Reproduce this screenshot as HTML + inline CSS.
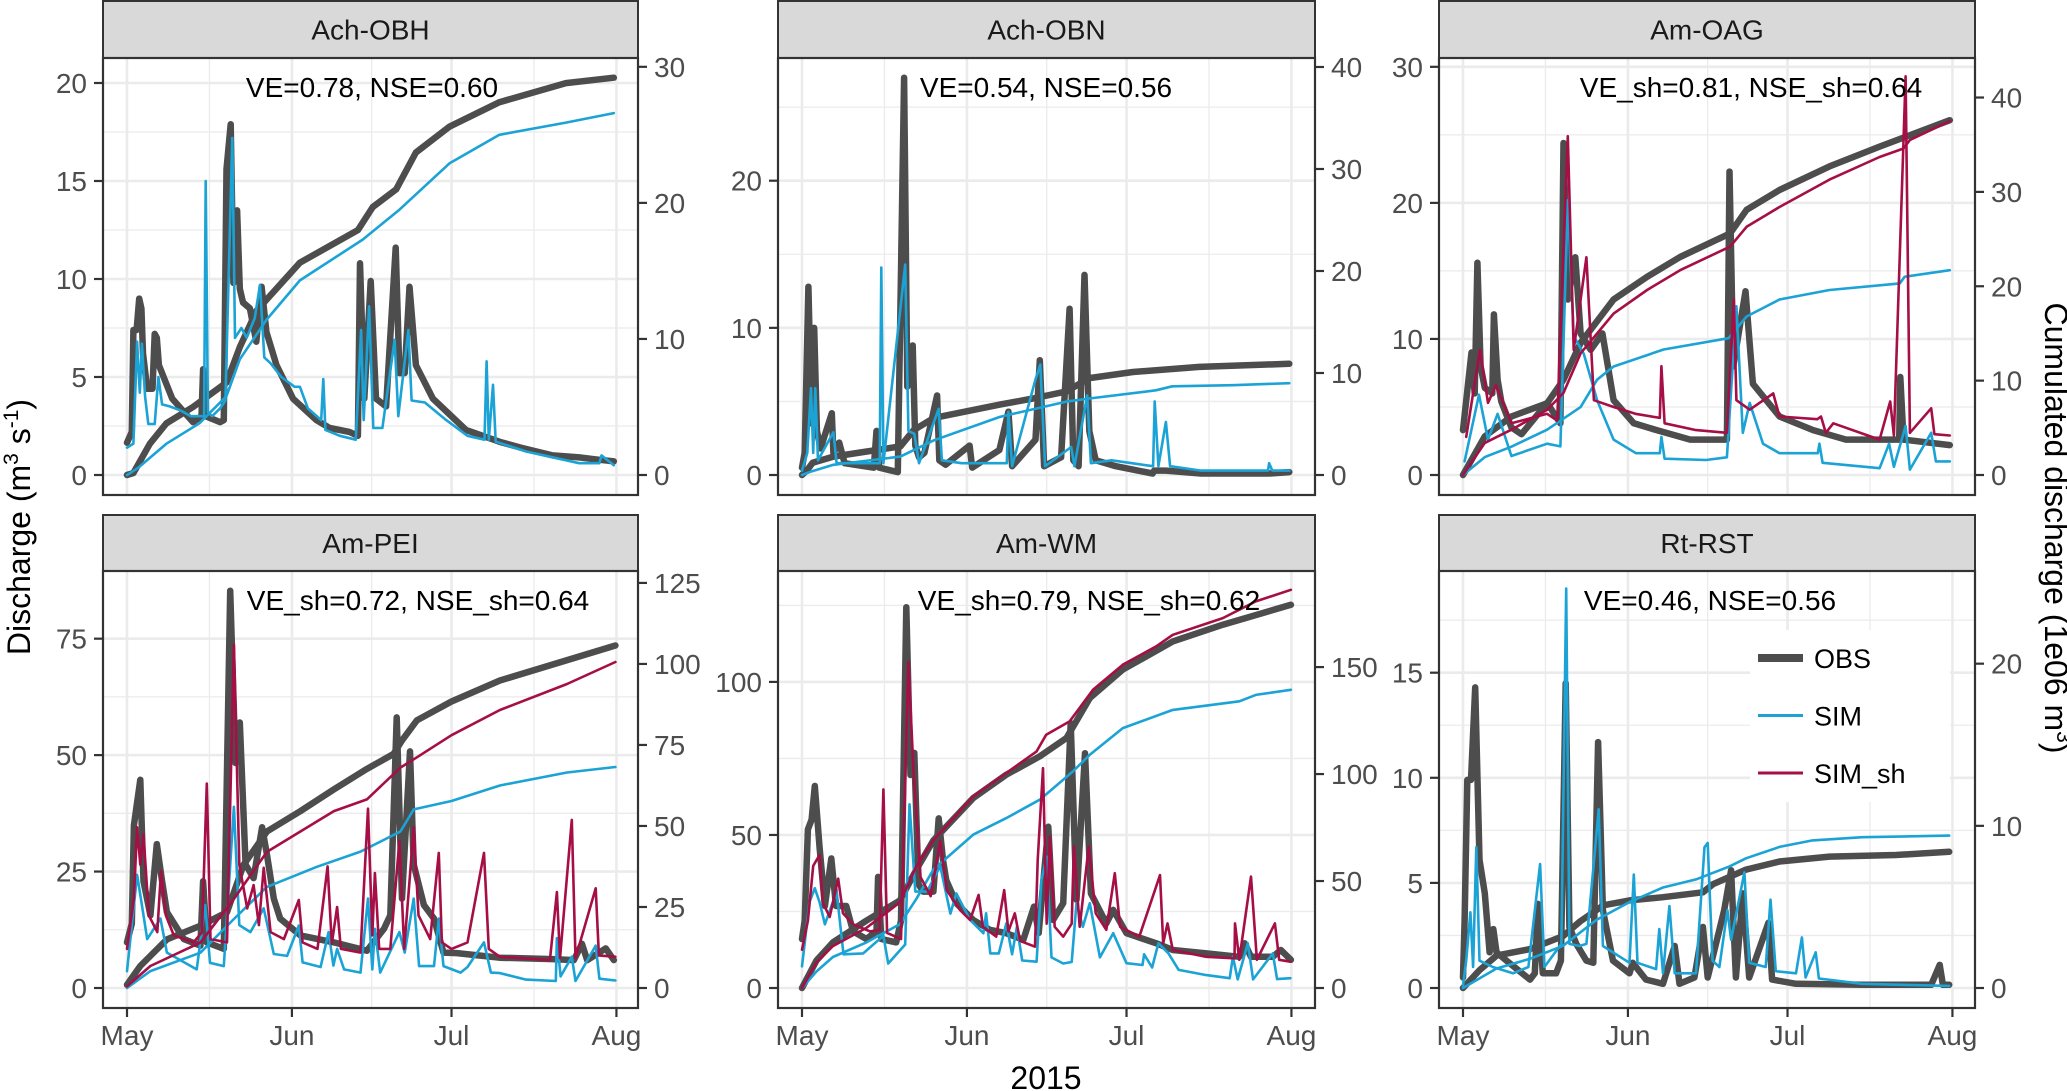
<!DOCTYPE html>
<html><head><meta charset="utf-8"><title>Discharge and cumulated discharge</title>
<style>
html,body{margin:0;padding:0;background:#fff;}
svg{display:block;font-family:"Liberation Sans",Arial,sans-serif;}
</style></head>
<body>
<svg id="chart" width="2067" height="1091" viewBox="0 0 2067 1091" xmlns="http://www.w3.org/2000/svg">
<text transform="translate(30,527) rotate(-90)" text-anchor="middle" font-size="32" fill="#000">Discharge (m<tspan font-size="21" dy="-12">3</tspan><tspan dy="12"> s</tspan><tspan font-size="21" dy="-12">-1</tspan><tspan dy="12">)</tspan></text>
<text transform="translate(2045,528) rotate(90)" text-anchor="middle" font-size="32" fill="#000">Cumulated discharge (1e06 m<tspan font-size="21" dy="-12">3</tspan><tspan dy="12">)</tspan></text>
<text x="1046" y="1089" text-anchor="middle" font-size="32" fill="#000">2015</text>
</svg>
<script>
// ---------- data: [day since May 1, value] ----------
// Ach-OBH
const achObhObsQ=[[0,1.65],[0.9,2.2],[1.2,7.4],[1.8,7.4],[2.3,9.0],[2.7,8.5],[3,6.2],[3.8,4.4],[4.8,4.4],[5.2,7.2],[5.6,7.0],[6,5.6],[8.5,3.9],[12.4,2.7],[14,3],[14.3,5.4],[14.8,3],[17.5,2.7],[18.2,2.8],[18.7,15.6],[19.5,17.9],[20,9.8],[20.7,13.5],[21.2,9.5],[21.8,8.8],[23.1,8.5],[24.3,6.8],[25.3,9.6],[26.2,7.3],[28.1,5.6],[31.2,3.9],[35.6,2.8],[38.1,2.4],[41.8,2.2],[43.4,2.0],[43.8,10.8],[44.6,3.9],[45.8,9.9],[46.8,3.9],[48.7,3.5],[50.5,11.6],[51.2,5.2],[52.2,5.2],[53.1,9.6],[54.3,5.6],[57.5,3.9],[63.7,2.3],[70,1.7],[74,1.4],[80,1.0],[85,0.9],[88,0.8],[91.5,0.7]];
const achObhSimQ=[[0,1.4],[1.2,1.6],[1.9,6.8],[2.4,4.2],[2.8,6.7],[3.4,4.0],[4,2.6],[5.2,2.6],[5.9,5.0],[6.6,3.6],[8,3.5],[10,3.3],[12,3.0],[14.5,3.0],[14.8,15],[15.2,3.2],[16,3.0],[17.5,3.4],[18.5,3.8],[19.8,17.2],[20.3,7.0],[21.5,7.5],[22.5,7.0],[24,8.0],[25,9.7],[25.8,6.0],[27,5.7],[29,5.0],[31.5,4.5],[32.5,4.5],[34,3.4],[36.5,2.8],[36.9,4.9],[37.3,2.3],[40,2.0],[43,1.8],[44,7.4],[44.5,2.8],[45.5,8.6],[46.3,2.4],[48,2.4],[50.3,6.9],[51,3.0],[52.9,7.4],[53.5,3.8],[56,3.7],[60,2.8],[64,2.0],[67.2,1.8],[67.6,5.8],[68,1.8],[68.8,4.6],[69.3,1.7],[75,1.2],[85,0.6],[88.8,0.6],[89.2,1.0],[91.5,0.5]];
const achObhObsC=[[0,0],[1.2,0.15],[4.3,2.3],[7.4,3.8],[12.4,5.0],[18.7,6.8],[21.2,9.4],[24.4,12.1],[32.5,15.6],[43.4,18.0],[46.2,19.7],[50.6,21],[54.3,23.7],[60.6,25.6],[70,27.4],[82.5,28.8],[91.5,29.2]];
const achObhSimC=[[0,0],[2,0.5],[7.4,2.3],[13.6,3.8],[18.7,5.8],[21.2,8.5],[26.2,11.4],[32.5,14.3],[44.3,17.3],[51.2,19.5],[60.6,22.9],[70,25],[82.5,25.9],[91.5,26.6]];
// Ach-OBN
const achObnObsQ=[[0,0.5],[0.5,1.5],[1.2,12.8],[1.8,3.5],[2.3,10],[2.8,3],[3.5,1.8],[5.6,4.2],[5.9,1.5],[7,2.2],[8,0.8],[13.5,0.5],[14,3],[14.5,0.5],[18,0.2],[19.2,27],[19.8,6],[20.8,8.8],[21.3,2],[22,1.2],[23,1.5],[25.4,5.4],[25.8,1.0],[27,0.7],[31.5,2.0],[32,0.5],[37.1,1.7],[38.8,4.3],[39.5,0.6],[43.9,2.4],[44.7,7.8],[45.5,0.6],[48.7,1.2],[50.3,11.3],[51,1.0],[52,0.6],[53.1,13.6],[54,3],[55.2,1.0],[59,0.6],[65.9,0.1],[66.2,0.3],[68.4,0.3],[75,0.1],[87.8,0.1],[91.6,0.2]];
const achObnSimQ=[[0,0.3],[1,1.5],[1.7,5.9],[2.1,1.5],[2.5,5.9],[3,1.0],[5.9,2.9],[6.5,0.8],[14.6,0.8],[14.9,14.1],[15.3,0.8],[19.4,14.3],[20,3],[21.1,2.8],[22,0.8],[25.7,4.5],[26.3,1.0],[30,0.8],[38.5,0.8],[38.8,4.3],[39.5,0.6],[43.9,6.5],[44.8,7.5],[45.7,0.6],[50.6,1.9],[51.2,0.6],[53.6,5.4],[54.3,0.8],[58.2,1.0],[62,0.8],[66,0.6],[66.3,5.0],[67,0.6],[68.4,3.6],[69.2,0.6],[75,0.3],[87.6,0.3],[87.8,0.8],[88.4,0.3],[91.6,0.3]];
const achObnObsC=[[0,0],[1,0.5],[2,1.2],[5.9,1.8],[12.2,2.3],[18.5,2.8],[21,4.4],[24.8,5.6],[37.2,6.9],[43.4,7.5],[49.7,8.2],[54,9.5],[62.2,10.1],[74.7,10.6],[91.6,10.9]];
const achObnSimC=[[0,0],[1.5,0.3],[5.9,1.0],[18.5,1.8],[24.8,3.4],[37.2,5.7],[49.7,7.2],[54,7.5],[66.5,8.3],[69.6,8.7],[80.9,8.8],[91.6,9.0]];
// Am-OAG
const amOagObsQ=[[0,3.3],[1.6,9.0],[2.2,6],[2.7,15.6],[3.3,8],[4.1,6.4],[5.5,6],[5.8,11.8],[6.5,7],[7.2,5.4],[9.1,3.5],[11,3],[15.8,5.3],[18.3,3.8],[18.9,24.4],[19.7,12.9],[21.1,16],[22.1,10.4],[24,9.2],[26.2,10.4],[28.3,5.5],[32.1,3.8],[36.4,3.3],[42.7,2.6],[49.6,2.6],[50.1,22.3],[50.8,8.0],[53.1,13.5],[54.5,6.7],[59.5,4.3],[65.8,3.3],[72,2.6],[82,2.6],[82.2,7.2],[82.8,2.6],[91.5,2.2]];
const amOagSimQ=[[0.3,1.0],[3.0,5.9],[4.7,2.6],[6.5,4.5],[9.1,1.4],[15.8,2.3],[18.3,2.1],[19.7,20.2],[20.8,10.2],[22.7,8.9],[25.2,5.5],[28.3,2.6],[32.5,1.6],[37,1.6],[37.3,2.8],[37.9,1.2],[45.7,1.1],[49.6,1.3],[51.4,12.4],[52.6,3.1],[53.9,5.3],[56.4,2.3],[59.5,1.6],[66.7,1.6],[67,2.3],[67.6,0.9],[78.3,0.5],[80.1,2.3],[81,0.6],[83.2,3.6],[84,0.4],[88,3.1],[88.9,1.0],[91.5,1.0]];
const amOagShQ=[[0.6,2.8],[3.2,9.2],[4.7,5.3],[6.2,6.6],[9.1,3.8],[15.8,4.5],[17.7,4.0],[19.7,24.9],[20.8,9.2],[23.2,16.0],[24.6,5.5],[28.3,5.0],[32.4,4.5],[37,4.2],[37.3,8.0],[37.9,3.8],[43.8,3.3],[49.6,3.1],[50.9,12.9],[51.4,5.5],[53.9,4.8],[58.3,6.0],[59.5,4.3],[66.6,4.1],[67.3,4.3],[68.2,3.1],[69.6,3.8],[78.3,2.6],[80.3,5.4],[81,2.9],[83.2,29.3],[84,3.1],[88,4.9],[88.6,3.0],[91.5,2.9]];
const amOagObsC=[[0,0],[4.1,4.1],[9.1,6.2],[15.8,7.6],[18.9,10.1],[22.1,14.0],[28.3,18.6],[34.6,21],[40.8,23.1],[50.2,25.6],[53.3,28.1],[59.5,30.2],[68.9,32.7],[78.3,34.8],[91.5,37.6]];
const amOagSimC=[[0,0],[4.1,1.9],[9.1,3.0],[15.8,4.8],[22.1,7.2],[25.2,10.1],[28.3,11.5],[37.7,13.3],[49.9,14.5],[53.3,16.8],[59.5,18.6],[68.9,19.6],[82.1,20.3],[83,21],[91.5,21.7]];
const amOagShC=[[0,0],[4.1,3.4],[9.1,4.8],[15.8,6.9],[18.9,8.7],[22.1,12.9],[28.3,17.1],[34.6,19.6],[40.8,21.7],[50.2,24.2],[53.3,26.3],[59.5,28.4],[68.9,31.3],[78.3,33.7],[82.8,34.6],[84,35.5],[91.5,37.5]];
// Am-PEI
const amPeiObsQ=[[0,9.8],[0.9,13.8],[1.3,34.9],[2.5,44.7],[3.1,22.9],[4.4,15.6],[5.6,30.9],[6.6,22.9],[7.5,16.3],[10.7,10.5],[13.8,9.1],[14.3,22.9],[15,9.8],[18.2,8.4],[19.4,85.3],[20.4,48.3],[21.2,57.0],[22.3,26.5],[23.8,23.6],[25.4,34.5],[26.3,28.7],[27.6,19.2],[28.8,14.9],[32.6,11.3],[38.9,9.8],[45.1,8.0],[48.3,12.7],[49.5,15.6],[50.7,58.1],[51.7,19.2],[53.2,50.8],[53.9,26.5],[55.8,17.8],[57.7,14.9],[59.5,7.6],[62,7.5],[66,7],[70,6.5],[80,6.2],[84,6],[85.5,9.5],[86.5,6],[90,8.5],[91.5,6]];
const amPeiSimQ=[[0,3.6],[1.9,24.3],[2.8,17.8],[3.8,10.5],[6.3,14.9],[7.5,7.6],[13.1,4.0],[14.7,17.8],[15.6,5.4],[18.2,4.7],[20.1,38.9],[21.1,13.5],[23.2,12],[25.7,17.1],[27.6,7.3],[30.1,6.9],[32.3,13.4],[33,5.5],[36.4,4.5],[37.9,12],[38.8,4.8],[39.5,8.4],[40.8,4.0],[43.9,3.3],[45.3,19.2],[46.1,4.0],[46.6,12.7],[47.6,3.3],[51.2,12],[52.2,7.6],[53.9,19.2],[54.9,4.7],[57.7,4.7],[58.6,14.9],[59.5,4.7],[62.7,3.3],[64,4.5],[67.1,9.8],[68.4,3.3],[70.1,3.2],[75,1.8],[80.6,1.5],[80.8,10.7],[81.5,2.5],[83.6,6.7],[84.3,1.5],[88.1,9.1],[88.8,2],[91.8,1.6]];
const amPeiShQ=[[0,8.4],[1.3,19.2],[1.9,34.5],[2.5,26.5],[3.1,33.0],[4.1,15.6],[5.7,12],[6.4,25.1],[7.3,15.6],[8.8,11.3],[12.5,9.8],[14.1,12],[15,43.9],[15.7,10.5],[18.8,9.8],[20.1,73.7],[21.1,26.5],[22.6,17.1],[23.8,22.1],[24.8,13.5],[25.7,25.8],[27,12],[29.5,10.5],[32.3,18.9],[33,9.8],[35.8,8.4],[37.7,26.1],[38.5,9.5],[39.5,17.4],[40.2,8.4],[43.9,7.6],[45.3,38.5],[46.1,11.3],[46.6,24.7],[47.4,8.4],[49.5,8.4],[51.2,31.6],[52.1,8.4],[53.9,34.5],[54.8,15.6],[57,10.5],[58.6,29.0],[59.2,9.8],[61,8.4],[64,9.8],[67.1,29],[68,8.4],[70.1,6.7],[79.5,6],[80.8,20.6],[81.4,6.4],[83.6,36.1],[84.3,6.4],[88.1,21.4],[88.7,7],[91.8,6.7]];
const amPeiObsC=[[0,1],[2.5,6.8],[7.5,15],[13.8,19.2],[18.8,23.4],[21.9,38],[26.3,48.3],[32.6,54.6],[38.9,61.3],[45.1,67.6],[50.1,72.2],[51.7,76.4],[54.5,82.6],[61,88.4],[70.1,94.9],[91.8,105.7]];
const amPeiSimC=[[0,0],[4.4,5.2],[13.8,10.9],[20.1,21.3],[26.3,31.2],[35.7,37.4],[43.9,42.1],[51.4,48.3],[53.9,55.1],[61,57.7],[70.1,62.5],[82.7,66.5],[91.8,68.2]];
const amPeiShC=[[0,0.5],[4.4,6.8],[13.8,14],[20.1,27.5],[26.3,42],[32.6,48.3],[38.9,54.6],[45.1,58.2],[51.4,68],[54.5,71.2],[61,78],[70.1,85.8],[82.7,93.8],[91.8,100.6]];
// Am-WM
const amWmObsQ=[[0,16],[0.5,22],[1.1,51.8],[1.8,55],[2.4,66],[3.3,45.8],[4.3,26.8],[5.5,42.3],[6.4,26.8],[8.3,26.8],[9.6,18.5],[12.1,16],[14,18.5],[14.3,36.3],[14.9,16],[17.7,14.9],[18.6,22],[19.6,124.4],[20.4,69.6],[21.1,76.8],[21.9,33.9],[22.8,31.5],[24.7,31.5],[25.7,55.4],[26.5,41.8],[27.1,35.3],[29,27.7],[32.2,22.2],[35.3,19],[38.4,17.9],[41.6,15.7],[43.6,26.6],[44.5,18],[46.3,52.7],[47.2,22.2],[49.1,27.7],[50.5,86.5],[51.6,28.8],[53.2,76.7],[54.3,30.9],[57.2,21.1],[58.5,25.5],[61,17.9],[66.6,14.6],[69.7,12.4],[76,11.3],[82.2,10.2],[83.2,14.6],[84.4,10.2],[88.5,10.2],[90,12.4],[91.9,9.2]];
const amWmSimQ=[[0,7.1],[1.4,28],[2.4,32.6],[3.3,28],[4.3,20.8],[6.5,31.5],[7.8,11],[11.5,11.3],[15.3,17.1],[16.2,8],[19.4,14.2],[20.2,60],[21.3,31.5],[23.5,31.5],[26,39.8],[27.9,24.3],[29,30.9],[31.6,22.2],[34.1,17.9],[34.6,24.4],[35.4,11.3],[37,11.3],[38.4,21.1],[39.5,11],[40.4,20],[41.4,9],[44.1,8.6],[45,35.3],[46,42.9],[46.9,10],[49.1,8],[50.7,8.5],[51.6,27.7],[52.8,20],[54.1,27.7],[56,10],[58.5,17.9],[61,8.1],[64,7.5],[64.3,11],[65.8,6.7],[67,14.6],[68.9,11.3],[70.8,5.9],[76,4.2],[80.4,3.2],[81,10.2],[81.9,2.8],[83.8,14.6],[84.8,2.8],[88.5,11.3],[89.3,2.9],[91.8,3.2]];
const amWmShQ=[[0,12.5],[1.1,22],[2.1,39.9],[3.3,43.5],[3.9,28],[5.2,23.2],[6.8,35.7],[7.7,24.4],[9.6,20.8],[12.8,18.5],[14.6,19],[15.3,64.9],[16,18],[18.6,16],[20,106.5],[21,69.6],[22.3,36.2],[24.2,30],[26,48.1],[27.2,32],[29.7,25.5],[31.6,22.2],[33.2,30.4],[34,20],[36.5,16.8],[38,32],[38.8,18.5],[40,24.4],[41,15.4],[43.8,13.5],[44.3,41.8],[45.3,71.8],[46,21],[46.6,49.5],[47.5,20],[49.1,16.8],[50.7,21],[51.1,46.2],[52.2,20],[53.9,46.2],[55.2,24.4],[57.2,19],[58.8,37.5],[59.8,20],[63.4,16.8],[67.3,36.9],[67.9,14.6],[68.7,21.1],[69.7,12.4],[76,10.2],[81.3,9.7],[81.4,21.1],[82.2,9.2],[84.4,36.4],[85.5,9.2],[88.9,21.1],[89.7,9.2],[91.8,8.6]];
const amWmObsC=[[0,0],[2.7,12.8],[5.8,21.3],[12.1,31.5],[18.4,40.9],[21.5,55.4],[24.7,69],[32.2,88.8],[38.4,99.7],[44.7,108.3],[49.7,116.8],[54.1,135.5],[60.3,148.8],[69.7,162],[79.1,169.8],[91.9,179.1]];
const amWmSimC=[[0,0],[2.7,7.7],[5.8,14.5],[12.1,21.3],[18.4,29.8],[21.5,41.7],[24.7,55.4],[32.2,71.7],[38.4,79.4],[44.7,88],[50.9,101.2],[54.1,109],[60.3,121.5],[69.7,130],[82.2,134],[85.3,137],[91.9,139.4]];
const amWmShC=[[0,0],[2.7,11.9],[5.8,19.6],[12.1,28.1],[18.4,40],[21.5,57],[24.7,69],[32.2,89.6],[38.4,100.5],[44.1,110.6],[45.9,118.4],[50.3,124.6],[54.7,139.4],[60.3,151.1],[66.6,159.7],[69.7,165.1],[79.1,172.9],[85.3,180.7],[91.9,186.1]];
// Rt-RST
const rtRstObsQ=[[0,0.5],[0.3,3.2],[0.8,9.9],[1.5,9.9],[2.3,14.3],[3.1,6.1],[4.1,4.5],[5,1.7],[5.7,2.8],[6.3,1.7],[8.2,1.3],[12.6,0.4],[13.5,0.7],[14.1,4.0],[15,0.7],[17.5,0.7],[18.4,1.3],[19.3,14.5],[20,2.9],[21.3,2.1],[23.2,1.3],[24.5,1.2],[25.4,11.7],[26.3,3.7],[28.2,1.3],[31.3,0.7],[31.9,1.2],[34.4,0.4],[37.6,0.2],[39.8,2.0],[40.7,0.2],[43.5,0.5],[45.1,2.9],[46,0.5],[49.1,3.7],[50.4,5.6],[51.3,0.5],[52.6,4.5],[53.8,0.5],[57.4,3.1],[58.1,0.4],[62.6,0.2],[75,0.15],[88,0.15],[89.6,1.1],[90.2,0.15],[91.4,0.15]];
const rtRstSimQ=[[0,0.1],[0.6,1.3],[1.4,3.6],[1.9,1.0],[2.5,6.7],[3.1,1.3],[5.6,1.0],[9.4,0.7],[12.3,1.0],[14.5,5.9],[15.3,1.0],[18.5,2.1],[19.4,19],[20,2.1],[21.9,2.0],[23.2,2.1],[25.5,8.5],[26.3,2.0],[31.3,1.2],[32.1,5.4],[32.8,1.2],[36.3,0.9],[36.9,2.8],[37.6,0.7],[38.8,3.9],[39.8,0.7],[43.8,0.7],[45.4,6.7],[46,6.9],[46.9,1.3],[48.2,1.0],[49.7,3.7],[50.4,2.3],[52.9,5.5],[53.8,1.2],[56.9,1.0],[57.8,4.2],[58.8,0.8],[62.6,0.7],[63.7,2.4],[64.4,0.5],[66.3,1.7],[66.9,0.45],[75,0.2],[84.5,0.14],[91.4,0.1]];
const rtRstObsC=[[0,0],[3.1,1.1],[6.3,2.0],[12.6,2.4],[18.8,3.2],[22,4.1],[26.4,5.1],[31.3,5.4],[37.6,5.6],[45.1,5.9],[47,6.4],[53.2,7.3],[59.5,7.8],[68.9,8.1],[81.4,8.2],[91.4,8.4]];
const rtRstSimC=[[0,0],[6.3,1.2],[12.6,1.8],[18.8,2.6],[25.1,4.2],[31.3,5.3],[37.6,6.2],[43.8,6.7],[50.1,7.5],[53.2,8.0],[59.5,8.7],[65.7,9.1],[75.1,9.3],[91.4,9.4]];

const panelNames=["Ach-OBH","Ach-OBN","Am-OAG","Am-PEI","Am-WM","Rt-RST"];
const panelStats=["VE=0.78, NSE=0.60","VE=0.54, NSE=0.56","VE_sh=0.81, NSE_sh=0.64","VE_sh=0.72, NSE_sh=0.64","VE_sh=0.79, NSE_sh=0.62","VE=0.46, NSE=0.56"];
const leftTicks=[[0,5,10,15,20],[0,10,20],[0,10,20,30],[0,25,50,75],[0,50,100],[0,5,10,15]];
const rightTicks=[[0,10,20,30],[0,10,20,30,40],[0,10,20,30,40],[0,25,50,75,100,125],[0,50,100,150],[0,10,20]];
const leftMax=[20.27,27.0,29.2,85.3,129.8,18.9];
const rightMax=[29.2,38.95,42.1,122.6,185.7,24.5];
const monthLabels=["May","Jun","Jul","Aug"];
const monthDays=[0,31,61,92];
const minorDays=[15.5,46,76.5];
const obsQ=[achObhObsQ,achObnObsQ,amOagObsQ,amPeiObsQ,amWmObsQ,rtRstObsQ];
const simQ=[achObhSimQ,achObnSimQ,amOagSimQ,amPeiSimQ,amWmSimQ,rtRstSimQ];
const shQ=[null,null,amOagShQ,amPeiShQ,amWmShQ,null];
const obsC=[achObhObsC,achObnObsC,amOagObsC,amPeiObsC,amWmObsC,rtRstObsC];
const simC=[achObhSimC,achObnSimC,amOagSimC,amPeiSimC,amWmSimC,rtRstSimC];
const shC=[null,null,amOagShC,amPeiShC,amWmShC,null];

// ---------- layout ----------
const colL=[103,778,1439], colR=[638,1315,1975];
const stripTop=[1,515], plotTop=[58,571], plotBot=[495,1008];
const statX=[372,1046,1751,418,1089,1710];
const dataSpan=397.3, padBottom=20, pxPerDay=5.32;
const C_OBS="#4d4d4d", C_SIM="#1ba3d6", C_SH="#a50f45";
const svg=document.getElementById('chart');
const NS="http://www.w3.org/2000/svg";
function mk(tag,attrs,parent){const e=document.createElementNS(NS,tag);for(const k in attrs)e.setAttribute(k,attrs[k]);(parent||svg).appendChild(e);return e;}

for(let i=0;i<6;i++){
  const col=i%3,row=Math.floor(i/3);
  const L=colL[col],R=colR[col],T=plotTop[row],B=plotBot[row];
  const y0=B-padBottom;
  const xS=d=>L+24+d*pxPerDay;
  const yL=v=>y0-v/leftMax[i]*dataSpan;
  const yR=v=>y0-v/rightMax[i]*dataSpan;
  const g=mk('g',{});
  
  
  // strip
  const st=mk('rect',{x:L,y:stripTop[row],width:R-L,height:T-stripTop[row],fill:'#d9d9d9',stroke:'#333','stroke-width':2},g);
  
  
  const stt=mk('text',{x:(L+R)/2,y:(stripTop[row]+T)/2+10,'text-anchor':'middle','font-size':28,fill:'#1a1a1a'},g);
  stt.textContent=panelNames[i];
  
  
  mk('rect',{x:L,y:T,width:R-L,height:B-T,fill:'#fff'},g);
  // grid
  const lt=leftTicks[i];
  const step=lt[1]-lt[0];
  for(let v=lt[0]+step/2;v<leftMax[i];v+=step){const yy=yL(v);mk('line',{x1:L,x2:R,y1:yy,y2:yy,stroke:'#ebebeb','stroke-width':1.3},g);}
  minorDays.forEach(d=>mk('line',{x1:xS(d),x2:xS(d),y1:T,y2:B,stroke:'#ebebeb','stroke-width':1.3},g));
  lt.forEach(v=>{const yy=yL(v);mk('line',{x1:L,x2:R,y1:yy,y2:yy,stroke:'#ebebeb','stroke-width':2.6},g);});
  monthDays.forEach(d=>mk('line',{x1:xS(d),x2:xS(d),y1:T,y2:B,stroke:'#ebebeb','stroke-width':2.6},g));
  // series
  const line=(data,ys,color,w,name)=>{
    if(!data)return;
    const p=mk('polyline',{points:data.map(q=>xS(q[0]).toFixed(1)+','+ys(q[1]).toFixed(1)).join(' '),fill:'none',stroke:color,'stroke-width':w,'stroke-linejoin':'round','stroke-linecap':'round'},g);
    
    
  };
  line(obsQ[i],yL,C_OBS,6.5,'obs-discharge-line');
  line(obsC[i],yR,C_OBS,6.5,'obs-cumulated-line');
  line(simQ[i],yL,C_SIM,2.6,'sim-discharge-line');
  line(simC[i],yR,C_SIM,2.6,'sim-cumulated-line');
  line(shQ[i],yL,C_SH,2.6,'sim-sh-discharge-line');
  line(shC[i],yR,C_SH,2.6,'sim-sh-cumulated-line');
  // annotation
  const an=mk('text',{x:statX[i],y:T+39,'text-anchor':'middle','font-size':28,fill:'#000'},g);
  an.textContent=panelStats[i];
  
  
  // border
  mk('rect',{x:L,y:T,width:R-L,height:B-T,fill:'none',stroke:'#333','stroke-width':2.2},g);
  // left axis
  lt.forEach(v=>{const yy=yL(v);
    mk('line',{x1:L-9,x2:L,y1:yy,y2:yy,stroke:'#333','stroke-width':2.2},g);
    const t=mk('text',{x:L-16,y:yy+10,'text-anchor':'end','font-size':28,fill:'#4d4d4d'},g);t.textContent=v;
    
    });
  rightTicks[i].forEach(v=>{const yy=yR(v);
    mk('line',{x1:R,x2:R+9,y1:yy,y2:yy,stroke:'#333','stroke-width':2.2},g);
    const t=mk('text',{x:R+16,y:yy+10,'text-anchor':'start','font-size':28,fill:'#4d4d4d'},g);t.textContent=v;
    
    });
  if(row===1){
    monthDays.forEach((d,k)=>{const xx=xS(d);
      mk('line',{x1:xx,x2:xx,y1:B,y2:B+9,stroke:'#333','stroke-width':2.2},g);
      const t=mk('text',{x:xx,y:1045,'text-anchor':'middle','font-size':28,fill:'#4d4d4d'},g);t.textContent=monthLabels[k];
      
      });
  }
}
// legend
const lg=mk('g',{});


mk('rect',{x:1750,y:630,width:200,height:172,fill:'#fff'},lg);
const legendLabels=["OBS","SIM","SIM_sh"];
const legendColors=[C_OBS,C_SIM,C_SH];
const legendWidths=[8,3,3];
legendLabels.forEach((lab,k)=>{
  const yy=658+k*57.5;
  const e=mk('g',{},lg);
  
  
  mk('line',{x1:1758,x2:1803,y1:yy,y2:yy,stroke:legendColors[k],'stroke-width':legendWidths[k]},e);
  const t=mk('text',{x:1814,y:yy+10,'font-size':27,fill:'#000'},e);t.textContent=lab;
});
</script>
</body></html>
